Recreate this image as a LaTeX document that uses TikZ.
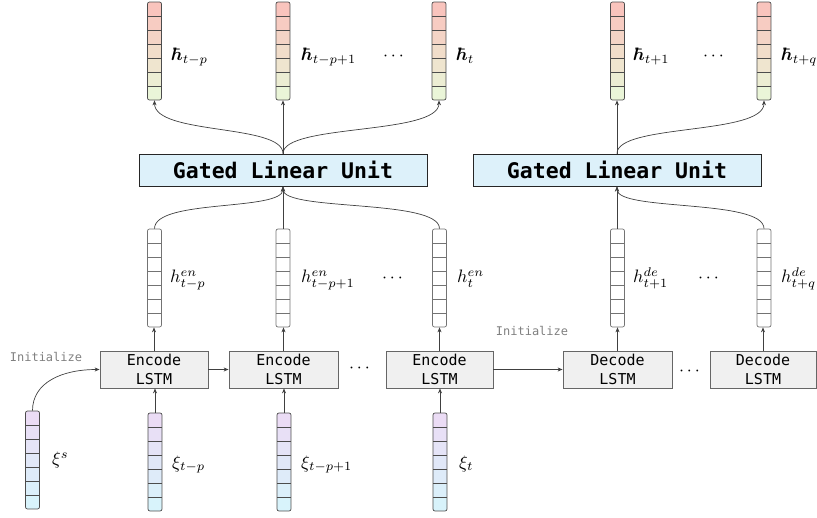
\documentclass[tikz,border=0pt]{standalone}
\usepackage{graphicx}
\usepackage{amsmath,bm}
\usepackage{fontspec}
\newfontfamily\monofont{DejaVu Sans Mono}
\usetikzlibrary{arrows.meta}
\definecolor{topA}{HTML}{F9C4BD}
\definecolor{topB}{HTML}{EAF5D8}
\definecolor{botA}{HTML}{EBDCF5}
\definecolor{botB}{HTML}{D8F3FB}
\definecolor{glufill}{HTML}{DDF1FA}
\definecolor{lstmfill}{HTML}{F0F0F0}
\newcommand\cellvec[6]{%
  \begin{scope}
    \clip[rounded corners=2pt] (#2-7,#3) rectangle (#2+7,#3+98);
    \foreach \i in {0,...,6}{
      \pgfmathsetmacro\p{100-\i*100/6}
      \fill[#4!\p!#5] (#2-7,#3+\i*14) rectangle (#2+7,#3+\i*14+14);
    }
  \end{scope}
  \foreach \i in {1,...,6} \draw[#6, line width=0.6pt] (#2-7,#3+\i*14) -- (#2+7,#3+\i*14);
  \node[draw=#6, line width=0.7pt, rounded corners=2pt, minimum width=14pt, minimum height=98pt, inner sep=0pt] (#1) at (#2,#3+49) {};
}
\newcommand\scaledmath[1]{\scalebox{1.8}{$#1$}}
\tikzset{
  arr/.style={-{Stealth[length=5pt,width=4pt]}, line width=0.7pt, draw=black!75},
  glu/.style={draw=black!85, fill=glufill, line width=0.9pt, minimum width=288pt, minimum height=32pt, inner sep=0pt, font=\monofont\bfseries\fontsize{21.5}{25}\selectfont},
  lstm/.style={draw=black!60, fill=lstmfill, line width=0.8pt, minimum height=37pt, inner sep=0pt, align=center, font=\monofont\fontsize{15}{18.5}\selectfont},
  lbl/.style={anchor=base west, inner sep=0pt},
  init/.style={inner sep=0pt, font=\monofont\fontsize{12}{14}\selectfont, text=black!50},
  dotsn/.style={inner sep=0pt}
}
\begin{document}
\begin{tikzpicture}[x=1pt,y=-1pt]
\useasboundingbox (0,0) rectangle (817,518);
% top output vectors
\cellvec{o1}{154.5}{2}{topA}{topB}{black!70}
\cellvec{o2}{283}{2}{topA}{topB}{black!70}
\cellvec{o3}{439}{2}{topA}{topB}{black!70}
\cellvec{o4}{617.5}{2}{topA}{topB}{black!70}
\cellvec{o5}{764}{2}{topA}{topB}{black!70}
% hidden vectors
\cellvec{h1}{154.5}{229}{white}{white}{black!55}
\cellvec{h2}{283}{229}{white}{white}{black!55}
\cellvec{h3}{439.5}{229}{white}{white}{black!55}
\cellvec{h4}{617.5}{229}{white}{white}{black!55}
\cellvec{h5}{764}{229}{white}{white}{black!55}
% input vectors
\cellvec{xs}{32.5}{411}{botA}{botB}{black!70}
\cellvec{x1}{155}{413}{botA}{botB}{black!70}
\cellvec{x2}{284}{413}{botA}{botB}{black!70}
\cellvec{x3}{440}{413}{botA}{botB}{black!70}
% GLU boxes
\node[glu] (g1) at (283,170) {Gated Linear Unit};
\node[glu] (g2) at (617,170) {Gated Linear Unit};
% LSTM boxes
\node[lstm, minimum width=108pt] (e1) at (154,369.5) {Encode\\LSTM};
\node[lstm, minimum width=109pt] (e2) at (283.5,369.5) {Encode\\LSTM};
\node[lstm, minimum width=107pt] (e3) at (439.5,369.5) {Encode\\LSTM};
\node[lstm, minimum width=109pt] (d1) at (617.5,369.5) {Decode\\LSTM};
\node[lstm, minimum width=106pt] (d2) at (763,369.5) {Decode\\LSTM};
% labels
\node[lbl] (lo1) at (172,61) {\scaledmath{\bm{\hbar}_{t-p}}};
\node[lbl] (lo2) at (302,61) {\scaledmath{\bm{\hbar}_{t-p+1}}};
\node[lbl] (lo3) at (457,61) {\scaledmath{\bm{\hbar}_{t}}};
\node[lbl] (lo4) at (634,61) {\scaledmath{\bm{\hbar}_{t+1}}};
\node[lbl] (lo5) at (782,61) {\scaledmath{\bm{\hbar}_{t+q}}};
\node[lbl] (lh1) at (170,283) {\scaledmath{h^{en}_{t-p}}};
\node[lbl] (lh2) at (301,283) {\scaledmath{h^{en}_{t-p+1}}};
\node[lbl] (lh3) at (457,283) {\scaledmath{h^{en}_{t}}};
\node[lbl] (lh4) at (633,283) {\scaledmath{h^{de}_{t+1}}};
\node[lbl] (lh5) at (781,283) {\scaledmath{h^{de}_{t+q}}};
\node[lbl] (lxs) at (52,465) {\scaledmath{\xi^{s}}};
\node[lbl] (lx1) at (172,468) {\scaledmath{\xi_{t-p}}};
\node[lbl] (lx2) at (301,468) {\scaledmath{\xi_{t-p+1}}};
\node[lbl] (lx3) at (459,468) {\scaledmath{\xi_{t}}};
% dots
\node[dotsn] (d_a) at (395,57) {\scaledmath{\cdots}};
\node[dotsn] (d_b) at (715,57) {\scaledmath{\cdots}};
\node[dotsn] (d_c) at (394,279) {\scaledmath{\cdots}};
\node[dotsn] (d_d) at (710,279) {\scaledmath{\cdots}};
\node[dotsn] (d_e) at (361,369) {\scaledmath{\cdots}};
\node[dotsn] (d_f) at (691,372) {\scaledmath{\cdots}};
% initialize labels
\node[init] (i1) at (46,357) {Initialize};
\node[init] (i2) at (532,331) {Initialize};
% GLU -> outputs
\draw[arr] (g1.north) .. controls +(0,-30) and +(0,35) .. (o1.south);
\draw[arr] (g1.north) -- (g1.north |- o2.south);
\draw[arr] (g1.north) .. controls +(0,-30) and +(0,35) .. (o3.south);
\draw[arr] (g2.north) -- (g2.north |- o4.south);
\draw[arr] (g2.north) .. controls +(0,-30) and +(0,35) .. (o5.south);
% hidden -> GLU
\draw[arr] (h1.north) .. controls +(0,-30) and +(0,25) .. (g1.south);
\draw[arr] (g1.south |- h2.north) -- (g1.south);
\draw[arr] (h3.north) .. controls +(0,-30) and +(0,25) .. (g1.south);
\draw[arr] (g2.south |- h4.north) -- (g2.south);
\draw[arr] (h5.north) .. controls +(0,-30) and +(0,25) .. (g2.south);
% LSTM -> hidden
\draw[arr] (e1.north) -- (e1.north |- h1.south);
\draw[arr] (e2.north) -- (e2.north |- h2.south);
\draw[arr] (e3.north) -- (e3.north |- h3.south);
\draw[arr] (d1.north) -- (d1.north |- h4.south);
\draw[arr] (d2.north) -- (d2.north |- h5.south);
% horizontal
\draw[arr] (e1.east) -- (e2.west);
\draw[arr] (e3.east) -- (d1.west);
% inputs -> LSTM
\draw[arr] (x1.north) -- (x1.north |- e1.south);
\draw[arr] (x2.north) -- (x2.north |- e2.south);
\draw[arr] (x3.north) -- (x3.north |- e3.south);
\draw[arr] (xs.north) .. controls +(0,-28) and +(-38,0) .. (e1.west);
\end{tikzpicture}
\end{document}
